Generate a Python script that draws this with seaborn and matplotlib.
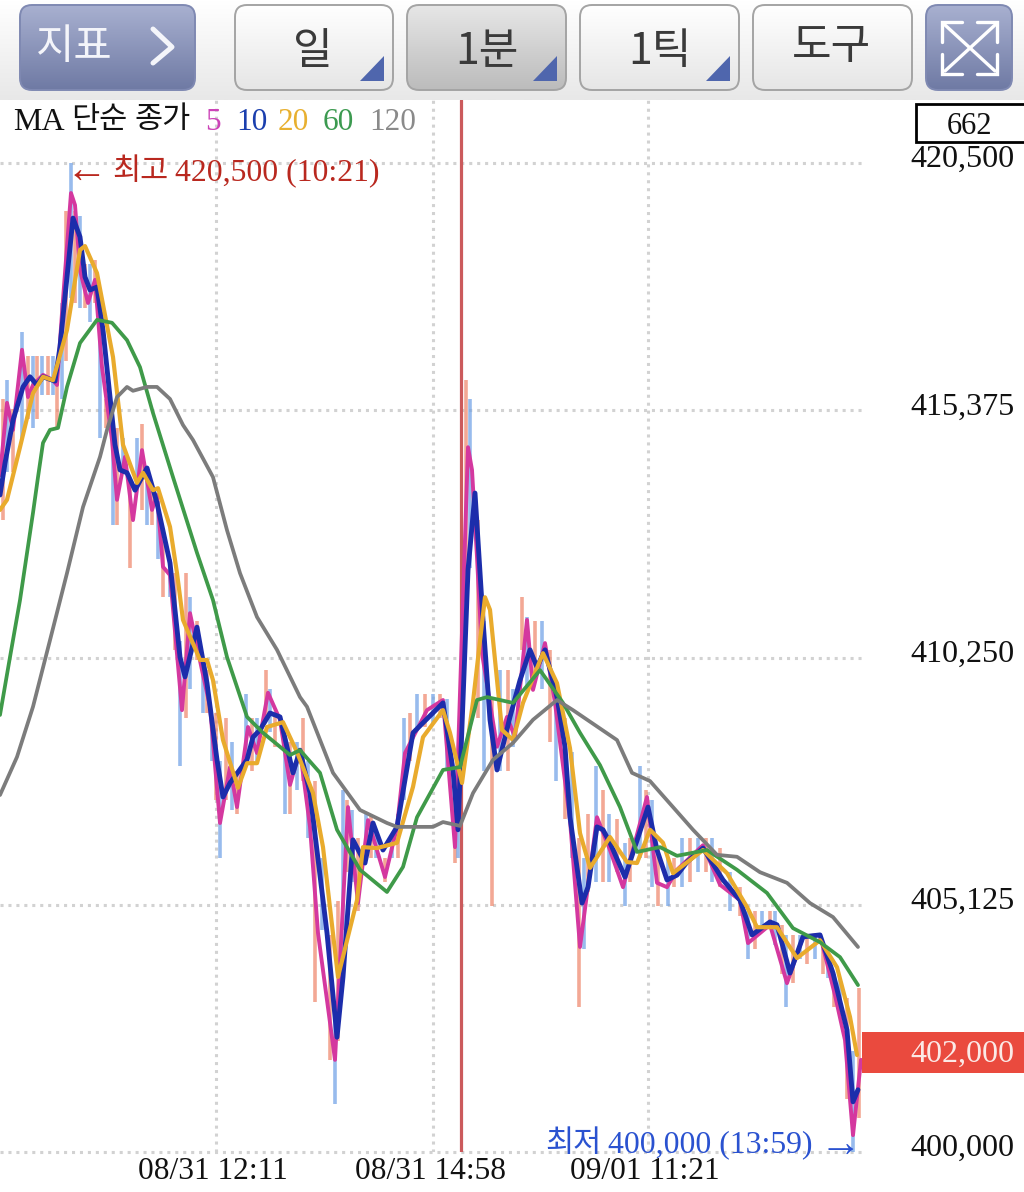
# -*- coding: utf-8 -*-
import matplotlib
matplotlib.use('Agg')
import matplotlib.pyplot as plt
from matplotlib.patches import FancyBboxPatch, Polygon, Rectangle
from matplotlib.transforms import ScaledTranslation
import numpy as np
import pandas as pd
import seaborn as sns

# tick labels
price_ticks = [400000, 405125, 410250, 415375, 420500]
time_slots = [216, 433, 648]
time_labels = ['08/31 12:11', '08/31 14:58', '09/01 11:21']
cursor_slot = 461
last_price = 402000

# MA 120
ma120_slot = [0, 17, 33, 50, 67, 83, 100, 107, 117, 127, 133, 147, 157, 170, 183, 193, 213,
              227, 240, 257, 277, 300, 307, 333, 360, 387, 397, 433, 443, 460, 473, 493,
              513, 533, 557, 573, 595, 617, 632, 650, 673, 693, 717, 737, 760, 787, 810, 833, 858]
ma120 = [407400, 408190, 409230, 410610, 412000, 413370, 414410, 414970, 415650, 415860, 415780,
         415860, 415860, 415610, 415070, 414760, 413990, 412890, 412000, 411090, 410410, 409430,
         409230, 407860, 407090, 406820, 406740, 406740, 406840, 406760, 407440, 408130, 408480,
         408960, 409370, 409160, 408850, 408540, 407860, 407690, 407150, 406680, 406160, 406120,
         405800, 405580, 405160, 404870, 404250]

# MA 60
ma60_slot = [0, 10, 20, 33, 38, 43, 50, 58, 67, 80, 97, 112, 127, 140, 153, 173, 197, 213, 227,
             247, 263, 290, 300, 320, 337, 360, 387, 403, 417, 443, 460, 477, 487, 513, 540,
             563, 580, 600, 620, 637, 660, 677, 707, 737, 767, 793, 820, 840, 858]
ma60 = [409060, 410260, 411440, 413250, 413990, 414700, 414970, 415010, 415860, 416770, 417250,
        417190, 416830, 416270, 415320, 413990, 412420, 411440, 410260, 409020, 408690, 408230,
        408330, 407860, 406680, 405850, 405390, 405910, 406940, 407920, 407980, 409370, 409430,
        409310, 409990, 409310, 408690, 408020, 407150, 406220, 406320, 406140, 406260, 405850,
        405370, 404640, 404350, 404040, 403460]

# MA 20
ma20_slot = [0, 7, 20, 33, 43, 53, 67, 80, 85, 97, 113, 123, 137, 143, 153, 158, 170, 177, 183,
             200, 207, 213, 223, 238, 247, 257, 267, 283, 297, 313, 323, 338, 357, 363, 377,
             397, 413, 423, 443, 450, 462, 473, 485, 490, 502, 513, 523, 543, 557, 570, 580,
             590, 610, 627, 637, 650, 663, 673, 703, 727, 747, 757, 777, 797, 820, 837, 850, 857]
ma20 = [413310, 413520, 414610, 415730, 416070, 416000, 417040, 418700, 418780, 418220, 416480,
        414660, 413870, 414080, 413720, 413760, 412960, 412000, 411030, 410200, 410200, 409780,
        408540, 407550, 408060, 408060, 408810, 408910, 408290, 407440, 406320, 403630, 405220,
        406320, 406300, 406410, 407570, 408600, 409160, 408690, 407650, 409330, 411500, 411240,
        408750, 408540, 409310, 410340, 409720, 408370, 406610, 405890, 406530, 406010, 405990,
        406680, 406410, 405780, 406260, 405780, 405080, 404660, 404660, 404020, 404390, 403830,
        402800, 402010]

# MA 10
ma10_slot = [0, 5, 13, 23, 30, 37, 43, 55, 60, 67, 73, 80, 85, 90, 97, 103, 115, 120, 127, 135,
             147, 157, 170, 180, 185, 197, 207, 217, 223, 230, 247, 253, 260, 270, 280, 293,
             300, 310, 327, 337, 343, 353, 365, 373, 383, 397, 413, 443, 453, 458, 468, 475,
             483, 490, 497, 510, 520, 530, 537, 545, 557, 565, 570, 582, 588, 597, 603, 610,
             625, 648, 657, 667, 677, 687, 703, 723, 740, 752, 770, 777, 790, 803, 820, 833,
             847, 853, 858]
ma10 = [413620, 414280, 415170, 415860, 416070, 415900, 416070, 415980, 416690, 418140, 419360,
        418970, 418140, 417870, 417930, 417040, 414660, 414140, 414080, 413720, 414180, 413450,
        412210, 410260, 409850, 410880, 409720, 408130, 407360, 407650, 408130, 408600, 408750,
        409100, 409020, 407860, 408330, 407440, 404540, 402380, 403630, 406470, 405990, 406820,
        406260, 406740, 408690, 409310, 407920, 406680, 412060, 413660, 411030, 408960, 407920,
        409020, 409780, 410410, 410050, 410410, 409430, 408400, 406940, 405160, 405490, 406740,
        406680, 406410, 405700, 407150, 406260, 405640, 405740, 406010, 406300, 405640, 405220,
        404500, 404770, 404710, 403710, 404460, 404500, 403710, 402530, 401040, 401290]

# MA 5
ma5_slot = [0, 7, 13, 22, 28, 33, 43, 53, 57, 62, 71, 75, 80, 88, 95, 102, 112, 117, 125, 133,
            142, 152, 157, 163, 170, 182, 190, 202, 210, 220, 230, 237, 248, 257, 268, 280,
            290, 300, 310, 318, 335, 348, 358, 368, 385, 397, 405, 427, 443, 455, 468, 472,
            477, 482, 497, 507, 515, 527, 533, 545, 555, 570, 580, 597, 610, 623, 647, 657,
            667, 677, 703, 720, 740, 748, 770, 787, 803, 820, 835, 845, 853, 861]
ma5 = [414030, 415530, 414970, 416630, 415650, 415900, 416110, 416000, 415900, 417390, 419880,
       419630, 418280, 417600, 418080, 416270, 414760, 413520, 414410, 413100, 414550, 413310,
       413620, 412130, 411960, 409160, 411170, 409990, 409230, 406820, 407980, 407150, 408810,
       408270, 409520, 408960, 407610, 408330, 406740, 404540, 401910, 407150, 405160, 406880,
       405700, 406740, 408270, 409160, 409370, 406320, 414610, 414140, 412330, 410340, 408400,
       409020, 408600, 411030, 409580, 410550, 409310, 406880, 404250, 406940, 406260, 405490,
       407360, 405580, 405490, 405850, 406360, 405540, 405220, 404330, 404710, 403500, 404460,
       404500, 403250, 402320, 400350, 401910]

# bar highs and lows
bar_slot = [3, 7, 13, 22, 28, 33, 37, 42, 48, 53,
            57, 62, 66, 71, 75, 80, 85, 90, 95, 100,
            106, 113, 117, 123, 130, 137, 142, 147, 152, 158,
            163, 170, 175, 180, 186, 190, 197, 203, 207, 212,
            216, 220, 226, 232, 237, 246, 252, 257, 266, 270,
            275, 285, 290, 297, 303, 308, 315, 322, 330, 335,
            338, 343, 347, 352, 358, 366, 371, 376, 385, 392,
            398, 404, 410, 417, 425, 433, 440, 447, 455, 458,
            466, 470, 478, 484, 492, 500, 508, 513, 522, 527,
            535, 542, 550, 556, 565, 572, 579, 584, 588, 596,
            603, 609, 617, 625, 630, 640, 646, 652, 658, 668,
            674, 682, 690, 698, 706, 712, 720, 730, 740, 748,
            755, 762, 770, 775, 782, 786, 793, 800, 807, 815,
            823, 828, 834, 840, 847, 853, 859]
bar_high = [415600, 416000, 415400, 417000, 416500, 416500, 416500, 416500, 416500, 416500,
            415900, 417600, 419500, 420500, 419500, 419400, 418400, 418400, 418500, 417500,
            415600, 414900, 415000, 414800, 413900, 414800, 415100, 414200, 413700, 413500,
            412700, 412300, 412000, 410600, 412000, 411500, 411000, 410100, 410000, 409000,
            409100, 408100, 409000, 408500, 407900, 409500, 409000, 409000, 410000, 409600,
            409100, 408300, 408500, 408500, 409000, 408100, 407700, 406100, 404500, 403100,
            405200, 407500, 407300, 407100, 406500, 407000, 407000, 406700, 406100, 406500,
            407000, 409000, 409100, 409500, 409500, 409500, 409500, 409400, 407500, 406900,
            416000, 415600, 413100, 411000, 409400, 410000, 410000, 409600, 411500, 411100,
            411000, 411000, 410400, 409400, 409000, 408300, 406500, 406100, 407000, 408000,
            407500, 407000, 406900, 406400, 406500, 408000, 407500, 407300, 406300, 406100,
            406100, 406500, 406500, 406500, 406500, 406500, 406300, 405800, 405500, 405000,
            405000, 405000, 405000, 405000, 404700, 404500, 404500, 404500, 404500, 404500,
            404300, 404100, 403700, 403600, 403200, 402100, 403400]
bar_low = [413100, 414100, 414100, 414800, 415200, 415000, 415200, 415700, 415700, 415700,
           415000, 415600, 416400, 417700, 417600, 417500, 417500, 417200, 417600, 414800,
           415000, 413000, 413000, 414100, 412100, 413900, 413300, 413000, 413000, 412300,
           411500, 411500, 410400, 408000, 409000, 409600, 410200, 409100, 409100, 408100,
           407300, 406100, 407300, 407100, 407000, 408100, 407900, 408100, 409000, 408700,
           408400, 407000, 407000, 407500, 407700, 406500, 403100, 404600, 401900, 401000,
           402300, 404600, 405800, 405600, 405000, 406100, 406100, 406100, 405600, 406100,
           406100, 407300, 408100, 408800, 408800, 408900, 409000, 407900, 406000, 406100,
           411400, 412100, 409000, 407900, 405100, 407900, 407900, 408400, 410400, 409600,
           409800, 409600, 408500, 407700, 406900, 406100, 403000, 404200, 405400, 405600,
           405600, 405600, 405800, 405100, 405600, 406100, 406100, 405500, 405100, 405100,
           405500, 405500, 405600, 405800, 405800, 405600, 405500, 405000, 404900, 404000,
           404200, 404700, 404700, 404300, 403700, 403000, 403500, 404000, 403900, 404000,
           403700, 403600, 403000, 403000, 401100, 400000, 400700]

sns.set_theme(style='white')
plt.rcParams['font.family'] = ['Liberation Serif', 'DejaVu Sans']
KR = ['Noto Sans CJK KR', 'DejaVu Sans']

fig = plt.figure(figsize=(10.24, 11.92), dpi=100, facecolor='white')

# chart area, right edge is where the grid stops
ax = fig.add_axes([0, 40 / 1192, 862 / 1024, 1052 / 1192])
ax.set_xlim(0, 862)
ax.set_ylim(400000, 421808)
sns.despine(ax=ax, left=True, bottom=True, right=True, top=True)

ax.set_xticks(time_slots)
ax.set_xticklabels(time_labels, fontsize=22.6, color='#111111')
ax.set_yticks(price_ticks)
ax.set_yticklabels([f'{p:,}' for p in price_ticks], fontsize=23.1, color='#111111', ha='left')
ax.yaxis.tick_right()
ax.tick_params(axis='y', length=0, pad=35)
ax.tick_params(axis='x', length=0, pad=3.5)
ax.grid(True, linestyle=(0, (1, 1.6)), color='#d2d2d2', linewidth=2.2)
ax.set_axisbelow(True)
for gl in ax.get_ygridlines():
    gl.set_clip_on(False)
for label in ax.get_yticklabels():
    label.set_transform(label.get_transform() + ScaledTranslation(0, 5 / 72, fig.dpi_scale_trans))
for label in ax.get_xticklabels():
    label.set_transform(label.get_transform() + ScaledTranslation(-2 / 72, 0, fig.dpi_scale_trans))

# bars, up and down take turns
up = np.arange(len(bar_slot)) % 2 == 0
bars = pd.DataFrame({'slot': bar_slot, 'high': bar_high, 'low': bar_low, 'up': up})
ax.vlines(bars[bars.up].slot, bars[bars.up].low, bars[bars.up].high,
          color='#ee8468', linewidth=2.6, alpha=0.7)
ax.vlines(bars[~bars.up].slot, bars[~bars.up].low, bars[~bars.up].high,
          color='#6c9fe6', linewidth=2.6, alpha=0.7)

ax.axvline(cursor_slot, color='#cb5a5c', linewidth=2.3)

# moving averages
for slot, vals, col, lw in [(ma5_slot, ma5, '#d4389f', 2.8),
                            (ma10_slot, ma10, '#1c2dab', 3.5),
                            (ma20_slot, ma20, '#e9ab2d', 3.0),
                            (ma60_slot, ma60, '#3f9a49', 2.7),
                            (ma120_slot, ma120, '#7c7c7c', 2.7)]:
    df = pd.DataFrame({'slot': slot, 'price': vals})
    sns.lineplot(data=df, x='slot', y='price', ax=ax, color=col, linewidth=lw,
                 estimator=None, sort=False, legend=False, solid_joinstyle='round')
ax.set_xlabel('')
ax.set_ylabel('')

# overlay in pixels for the toolbar and labels
ui = fig.add_axes([0, 0, 1, 1], zorder=5)
ui.patch.set_alpha(0)
ui.axis('off')


def gradient(x0, y0, x1, y1, top, bottom, clip=None):
    c0 = np.array(matplotlib.colors.to_rgb(top))
    c1 = np.array(matplotlib.colors.to_rgb(bottom))
    t = np.linspace(0, 1, 64)[:, None, None]
    img = c0[None, None, :] * (1 - t) + c1[None, None, :] * t
    im = ui.imshow(img, extent=(x0, x1, y1, y0), aspect='auto', zorder=1)
    if clip is not None:
        im.set_clip_path(clip)


def button(x0, x1, top, bottom, edge):
    box = FancyBboxPatch((x0 + 8, 13), x1 - x0 - 16, 69, boxstyle='round,pad=8,rounding_size=12',
                         facecolor='none', edgecolor=edge, linewidth=1.4, zorder=2)
    ui.add_patch(box)
    gradient(x0, 5, x1, 90, top, bottom, clip=box)


gradient(0, 0, 1024, 100, '#ffffff', '#e8e8e8')
button(20, 195, '#a8b0d0', '#6f7aa4', '#7f89b2')
button(235, 393, '#ffffff', '#e6e6e6', '#a4a4a4')
button(407, 566, '#e6e6e6', '#bcbcbc', '#a4a4a4')
button(580, 739, '#ffffff', '#e6e6e6', '#a4a4a4')
button(753, 912, '#ffffff', '#e6e6e6', '#a4a4a4')
button(926, 1012, '#a8b0d0', '#6f7aa4', '#7f89b2')
for x in [360, 533, 706]:
    ui.add_patch(Polygon([(x, 81), (x + 24, 81), (x + 24, 56)], closed=True,
                         facecolor='#4f66ad', edgecolor='none', zorder=3))

ui.text(74, 47, '지표', family=KR, fontsize=30, fontweight='medium', color='#f4f5fa',
        ha='center', va='center', zorder=4)
ui.plot([153, 172, 153], [29, 47, 63], color='#f4f5fa', linewidth=3.6, zorder=4)
for x, y, txt in [(313, 52, '일'), (487, 52, '1분'), (660, 52, '1틱'), (832, 47, '도구')]:
    ui.text(x, y, txt, family=KR, fontsize=31, fontweight='medium', color='#3a3a3a',
            ha='center', va='center', zorder=4)

# expand icon
for xs, ys in [([945, 995], [25, 71]), ([995, 945], [25, 71]),
               ([942, 942, 962], [42, 22, 22]), ([997, 997, 977], [42, 22, 22]),
               ([942, 942, 962], [54, 74, 74]), ([997, 997, 977], [54, 74, 74])]:
    ui.plot(xs, ys, color='white', linewidth=2.4, solid_joinstyle='miter', zorder=4)

# MA legend
ui.text(13, 122, 'MA', fontsize=23, color='#111111', va='center')
ui.text(71, 119, '단순', family=KR, fontsize=22, color='#111111', va='center')
ui.text(134, 119, '종가', family=KR, fontsize=22, color='#111111', va='center')
for x, txt, col in [(205, '5', '#cc44b8'), (236, '10', '#1b3fae'), (278, '20', '#e8b030'),
                    (323, '60', '#3c9a50'), (369, '120', '#8a8a8a')]:
    ui.text(x, 122, txt, fontsize=22.5, color=col, va='center')

# value box
ui.add_patch(Rectangle((915.5, 104), 120, 38, facecolor='white', edgecolor='black',
                       linewidth=2, zorder=3))
ui.text(970, 126, '662', fontsize=22, color='#111111', ha='center', va='center', zorder=4)

# current price tag
ui.add_patch(Rectangle((862, 1032), 162, 41, facecolor='#ea4a3e', edgecolor='none', zorder=3))
ui.text(1014, 1054, f'{last_price:,}', fontsize=23.1, color='#fbe9e6', ha='right', va='center', zorder=4)

# high and low marks
red = '#b9281f'
blue = '#2a52d0'
ui.text(66, 172, '←', fontsize=30, color=red, va='center')
ui.text(112, 171, '최고', family=KR, fontsize=22, color=red, va='center')
ui.text(175, 173, '420,500 (10:21)', fontsize=22.9, color=red, va='center')
ui.text(545, 1144, '최저', family=KR, fontsize=22, color=blue, va='center')
ui.text(608, 1145, '400,000 (13:59)', fontsize=22.9, color=blue, va='center')
ui.text(819, 1146, '→', fontsize=30, color=blue, va='center')

ui.set_xlim(0, 1024)
ui.set_ylim(1192, 0)

fig.savefig('out.png', dpi=100)
